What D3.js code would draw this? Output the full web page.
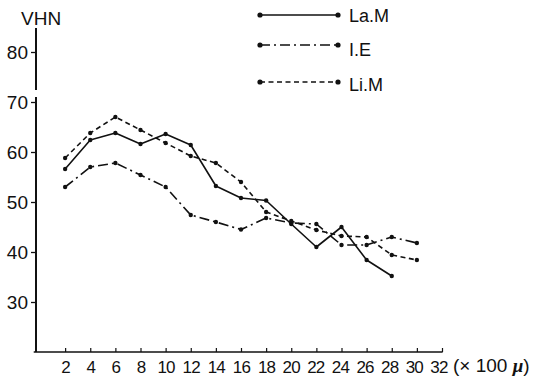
<!DOCTYPE html>
<html>
<head>
<meta charset="utf-8">
<script src="https://cdn.jsdelivr.net/npm/d3@7"></script>
<style>
  html, body { margin: 0; padding: 0; background: #fff; }
  svg { display: block; }
  text { font-family: "Liberation Sans", "DejaVu Sans", sans-serif; fill: #111; }
</style>
</head>
<body>
<svg id="chart" width="555" height="381"></svg>
<script>
// Hardness (VHN) against distance (×100 μ)
const distances = [2, 4, 6, 8, 10, 12, 14, 16, 18, 20, 22, 24, 26, 28, 30];
const xTickValues = [2, 4, 6, 8, 10, 12, 14, 16, 18, 20, 22, 24, 26, 28, 30, 32];
const yTickValues = [30, 40, 50, 60, 70, 80];

const seriesNames = ["La.M", "I.E", "Li.M"];
const laM = [56.6, 62.4, 63.8, 61.6, 63.6, 61.4, 53.2, 50.8, 50.3, 45.6, 41.0, 45.0, 38.4, 35.2];
const iE  = [53.0, 57.0, 57.8, 55.4, 53.0, 47.4, 46.0, 44.5, 46.8, 45.8, 45.6, 41.4, 41.4, 43.0, 41.8];
const liM = [58.8, 63.8, 67.0, 64.4, 61.8, 59.2, 57.8, 54.0, 48.0, 46.2, 44.4, 43.2, 43.0, 39.4, 38.4];

const svg = d3.select("#chart");
const ink = "#111";

const x = d3.scaleLinear().domain([0, 32]).range([40, 442]);
const y = d3.scaleLinear().domain([20, 80]).range([352, 52]);

// ---- y axis (broken between 70 and 80)
const yAxis = d3.axisLeft(y).tickValues(yTickValues).tickSize(5).tickPadding(3);
const gy = svg.append("g").attr("transform", "translate(36,0)").call(yAxis);
gy.select(".domain").remove();
gy.selectAll(".tick line").attr("stroke", ink).attr("stroke-width", 1.3);
gy.selectAll(".tick text")
  .attr("font-size", 19).attr("fill", ink)
  .attr("font-family", "Liberation Sans, DejaVu Sans, sans-serif");

const yLine = d3.line().x(36).y(d => y(d));
svg.append("path").attr("d", yLine([84.8, 72.4]))
  .attr("stroke", ink).attr("stroke-width", 2).attr("fill", "none");
svg.append("path").attr("d", yLine([71.0, 20]))
  .attr("stroke", ink).attr("stroke-width", 2).attr("fill", "none");

svg.append("text").attr("x", 21).attr("y", 25)
  .attr("font-size", 19).text("VHN");

// ---- x axis with upward ticks
const xAxis = d3.axisBottom(x).tickValues(xTickValues).tickSizeInner(-4).tickSizeOuter(0).tickPadding(9);
const gx = svg.append("g").attr("transform", `translate(0,${y(20)})`).call(xAxis);
gx.select(".domain").attr("d", `M${x(-0.5)},0H${x(32.05)}`)
  .attr("stroke", ink).attr("stroke-width", 1.6);
gx.selectAll(".tick line").attr("stroke", ink).attr("stroke-width", 1.2);
gx.selectAll(".tick text")
  .attr("font-size", 17).attr("fill", ink)
  .attr("letter-spacing", -0.8)
  .attr("dx", d => d >= 20 ? -(d - 18) * 0.25 : 0)
  .attr("font-family", "Liberation Sans, DejaVu Sans, sans-serif");

const unit = svg.append("text").attr("x", 453).attr("y", 372).attr("font-size", 19);
unit.append("tspan").text("(× 100 ");
unit.append("tspan").attr("font-style", "italic").attr("font-weight", "bold")
  .attr("font-family", "Liberation Serif, DejaVu Serif, serif").text("μ");
unit.append("tspan").text(")");

// ---- series
const styles = [
  { data: laM, dash: null },
  { data: iE,  dash: "10,4,2,4" },
  { data: liM, dash: "5,3.5" }
];

const line = d3.line().x((d, i) => x(distances[i])).y(d => y(d));

styles.forEach(s => {
  svg.append("path")
    .attr("d", line(s.data))
    .attr("fill", "none")
    .attr("stroke", ink)
    .attr("stroke-width", 1.6)
    .attr("stroke-linejoin", "round")
    .attr("stroke-dasharray", s.dash);
  svg.append("g").selectAll("circle")
    .data(s.data)
    .join("circle")
    .attr("cx", (d, i) => x(distances[i]))
    .attr("cy", d => y(d))
    .attr("r", 2.2)
    .attr("fill", ink);
});

// ---- legend
const legendY = [15, 45, 82];
const textY = [22, 56, 91];
styles.forEach((s, i) => {
  const g = svg.append("g");
  g.append("line")
    .attr("x1", 260).attr("x2", 338)
    .attr("y1", legendY[i]).attr("y2", legendY[i])
    .attr("stroke", ink).attr("stroke-width", 1.6)
    .attr("stroke-dasharray", s.dash);
  [260, 338].forEach(cx => g.append("circle")
    .attr("cx", cx).attr("cy", legendY[i]).attr("r", 2.6).attr("fill", ink));
  g.append("text").attr("x", 349).attr("y", textY[i])
    .attr("font-size", 18).text(seriesNames[i]);
});
</script>
</body>
</html>
